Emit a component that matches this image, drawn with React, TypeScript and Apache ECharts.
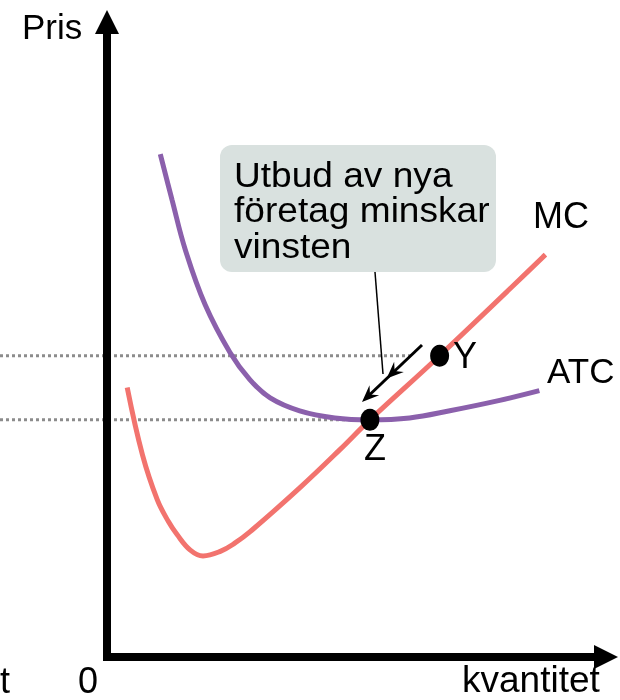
import React, { useEffect, useRef } from "react";
import * as echarts from "echarts";

// Curves (quantity, price)
const mcCurve: number[][] = [
  [3.9, 41.6], [6.9, 31.2], [9.8, 24.3], [12.0, 20.9], [13.7, 18.9], [16.3, 16.5],
  [18.8, 15.6], [22.2, 16.3], [25.1, 17.6], [28.0, 19.3], [37.8, 26.1], [45.7, 32.0],
  [51.6, 36.6], [65.3, 46.5], [86.1, 62.1],
];
const atcCurve: number[][] = [
  [10.4, 77.6], [12.7, 70.6], [15.3, 62.9], [19.2, 54.4], [24.1, 47.0], [28.0, 42.8],
  [32.0, 40.0], [37.8, 38.0], [44.7, 36.9], [51.6, 36.6], [59.4, 36.9], [67.3, 38.0],
  [77.1, 39.6], [84.9, 41.1],
];
const pointNames = ["Y", "Z"];
const pointValues: number[][] = [[65.3, 46.5], [51.6, 36.6]];
const guideStart = -21.1;
const guideEnds = [59.8, 51.6];
const priceLevels = [46.5, 36.6];
const curveNames = ["MC", "ATC"];
const axisNames = ["Pris", "kvantitet", "0", "t"];
const calloutLines = ["Utbud av nya", "företag minskar", "vinsten"];

const FONT = '"Liberation Sans", Arial, Helvetica, sans-serif';

function txt(text: string, x: number, y: number, size = 35, align = "left") {
  return {
    type: "text",
    x,
    y,
    z: 20,
    style: {
      text,
      fill: "#000",
      fontSize: size,
      fontFamily: FONT,
      align,
      verticalAlign: "middle",
    },
  };
}

const hiddenAxis = {
  type: "value",
  axisLine: { show: false },
  axisTick: { show: false },
  axisLabel: { show: false },
  splitLine: { show: false },
};

const arrowAxisLine = {
  show: true,
  onZero: false,
  symbol: ["none", "triangle"],
  symbolSize: [24, 24],
  lineStyle: { color: "#000", width: 8, cap: "square" },
};

export default function App() {
  const ref = useRef<HTMLDivElement>(null);
  useEffect(() => {
    if (!ref.current) return;
    const chart = echarts.init(ref.current, undefined, { renderer: "svg" });

    // arrow geometry
    const A0 = [422, 345];
    const A1 = [362, 402];
    const dx = A1[0] - A0[0];
    const dy = A1[1] - A0[1];
    const len = Math.sqrt(dx * dx + dy * dy);
    const ux = dx / len;
    const uy = dy / len;
    const px = -uy;
    const py = ux;
    const head = (tx: number, ty: number) => {
      const L = 17, W = 7, N = 11;
      return [
        [tx, ty],
        [tx - ux * L + px * W, ty - uy * L + py * W],
        [tx - ux * N, ty - uy * N],
        [tx - ux * L - px * W, ty - uy * L - py * W],
      ];
    };
    const T2 = [A1[0] - ux * 34, A1[1] - uy * 34];

    const guideSeries = priceLevels.map((p, i) => ({
      type: "line",
      xAxisIndex: 0,
      yAxisIndex: 0,
      data: [[guideStart, p], [guideEnds[i], p]],
      symbol: "none",
      silent: true,
      z: 1,
      lineStyle: { color: "#8c8c8c", width: 3, type: [3, 3] },
    }));

    chart.setOption({
      animation: false,
      grid: [
        { left: 0, right: 14, top: 22, bottom: 43 },
        { left: 107, right: 14, top: 22, bottom: 43 },
      ],
      xAxis: [
        { ...hiddenAxis, gridIndex: 0, min: guideStart, max: 98 },
        {
          ...hiddenAxis,
          gridIndex: 1,
          min: 0,
          max: 98,
          z: 10,
          axisLine: arrowAxisLine,
        },
      ],
      yAxis: [
        { ...hiddenAxis, gridIndex: 0, min: 0, max: 98 },
        {
          ...hiddenAxis,
          gridIndex: 1,
          min: 0,
          max: 98,
          z: 10,
          axisLine: arrowAxisLine,
        },
      ],
      series: [
        ...guideSeries,
        {
          name: curveNames[1],
          type: "line",
          xAxisIndex: 0,
          yAxisIndex: 0,
          data: atcCurve,
          smooth: 0.4,
          symbol: "none",
          z: 3,
          lineStyle: { color: "#8B60AC", width: 5 },
        },
        {
          name: curveNames[0],
          type: "line",
          xAxisIndex: 0,
          yAxisIndex: 0,
          data: mcCurve,
          smooth: 0.4,
          symbol: "none",
          z: 4,
          lineStyle: { color: "#F2736E", width: 5 },
        },
        {
          type: "scatter",
          xAxisIndex: 0,
          yAxisIndex: 0,
          z: 6,
          data: pointValues.map((v, i) => ({
            value: v,
            name: pointNames[i],
            label: i === 0
              ? { show: true, position: "right", distance: 4, formatter: "{b}" }
              : { show: true, position: "bottom", distance: -1, offset: [5, 0], formatter: "{b}" },
          })),
          symbol: "circle",
          symbolSize: [19, 22],
          itemStyle: { color: "#000", opacity: 1 },
          label: { color: "#000", fontSize: 36, fontFamily: FONT },
        },
      ],
      graphic: [
        {
          type: "rect",
          z: 15,
          shape: { x: 220, y: 145, width: 276, height: 127, r: 12 },
          style: { fill: "#D9E1DF" },
        },
        {
          type: "text",
          x: 234,
          y: 157,
          z: 20,
          scaleX: 1.06,
          style: {
            text: calloutLines.join("\n"),
            fill: "#000",
            fontSize: 35,
            lineHeight: 35.5,
            fontFamily: FONT,
            align: "left",
            verticalAlign: "top",
          },
        },
        {
          type: "line",
          z: 15,
          shape: { x1: 375, y1: 272, x2: 383, y2: 374 },
          style: { stroke: "#000", lineWidth: 1.5 },
        },
        {
          type: "polyline",
          z: 15,
          shape: { points: [A0, [A1[0] - ux * 8, A1[1] - uy * 8]] },
          style: { stroke: "#000", lineWidth: 3, fill: null },
        },
        { type: "polygon", z: 16, shape: { points: head(A1[0], A1[1]) }, style: { fill: "#000" } },
        { type: "polygon", z: 16, shape: { points: head(T2[0], T2[1]) }, style: { fill: "#000" } },
        txt(axisNames[0], 22, 26, 35),
        txt(axisNames[1], 462, 679, 37),
        txt(axisNames[2], 78, 680, 36),
        txt(axisNames[3], 0, 680, 36),
        txt(curveNames[0], 533, 215, 36),
        txt(curveNames[1], 547, 370, 35),
      ],
    });
    return () => chart.dispose();
  }, []);
  return (
    <div
      ref={ref}
      style={{ position: "fixed", left: 0, top: 0, width: 620, height: 700 }}
    />
  );
}
